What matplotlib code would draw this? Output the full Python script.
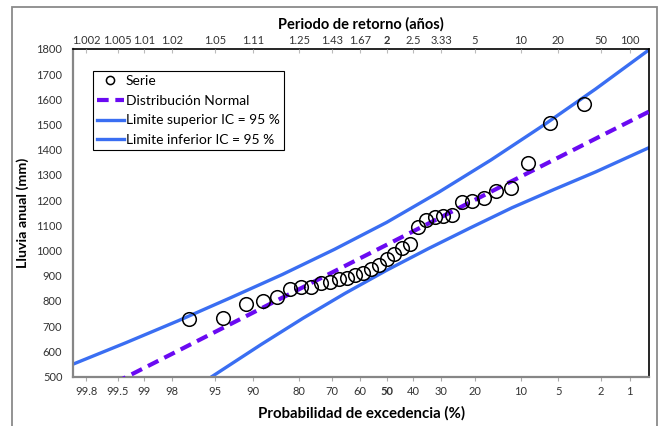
import numpy as np
import matplotlib.pyplot as plt
from matplotlib.patches import Rectangle
from statistics import NormalDist

plt.rcParams['font.family'] = ['Lato', 'DejaVu Sans']

# Annual rainfall sample (mm), sorted ascending
rain = [729, 734, 787, 800, 817, 848, 854, 857, 870, 874, 889, 893, 903, 912,
        926, 943, 965, 986, 1009, 1025, 1094, 1123, 1133, 1139, 1141, 1194,
        1198, 1210, 1238, 1250, 1346, 1508, 1580]

# Fitted normal line, read at standard normal variate positions
norm_z = [-2.6, -2.0, -1.0, 0.0, 1.0, 2.0, 2.51]
norm_val = [476, 602, 813, 1023, 1234, 1444, 1551]

# 95 % confidence limits
upper_z = [-3.0, -2.5, -2.0, -1.5, -1.0, -0.5, 0.0, 0.5, 1.0, 1.5, 2.0, 2.51]
upper_val = [550, 634, 721, 812, 905, 1005, 1112, 1232, 1360, 1497, 1641, 1796]
lower_z = [-1.8, -1.2, -0.8, -0.4, 0.0, 0.4, 0.8, 1.2, 1.6, 2.0, 2.51]
lower_val = [466, 628, 732, 830, 922, 1008, 1090, 1170, 1242, 1312, 1408]

# Axis ticks
exc_ticks = [99.8, 99.5, 99, 98, 95, 90, 80, 70, 60, 50, 40, 30, 20, 10, 5, 2, 1]
exc_labels = ['99.8', '99.5', '99', '98', '95', '90', '80', '70', '60', '50',
              '40', '30', '20', '10', '5', '2', '1']
tr_labels = ['1.002', '1.005', '1.01', '1.02', '1.05', '1.11', '1.25', '1.43',
             '1.67', '2', '2.5', '3.33', '5', '10', '20', '50', '100']

nd = NormalDist()
n = len(rain)
# Weibull plotting position (exceedance), largest value has rank 1
p_exc = [(n - i) / (n + 1) for i in range(n)]
z_obs = [nd.inv_cdf(1 - p) for p in p_exc]
z_ticks = [nd.inv_cdf(1 - p / 100) for p in exc_ticks]

blue = '#3A6EF2'
purple = '#6A0AF2'

fig = plt.figure(figsize=(6.62, 4.26), dpi=100)
ax = fig.add_axes([0.111, 0.116, 0.869, 0.769])

# outer frame around the chart
fig.patches.append(Rectangle((12 / 662, -0.1), 645 / 662, 1.1 - 7 / 426,
                             transform=fig.transFigure, fill=False,
                             edgecolor='#8a8a8a', linewidth=1.3))

ax.plot(upper_z, upper_val, color=blue, lw=2.4, label='Limite superior IC = 95 %', zorder=2)
ax.plot(lower_z, lower_val, color=blue, lw=2.4, label='Limite inferior IC = 95 %', zorder=2)
ax.plot(norm_z, norm_val, color=purple, lw=3, dashes=(2.8, 1.6),
        label='Distribución Normal', zorder=3)
ax.plot(z_obs, rain, linestyle='none', marker='o', ms=9.8, mfc='none',
        mec='black', mew=1.1, label='Serie', zorder=4)

ax.set_xlim(-3.0, 2.51)
ax.set_ylim(500, 1800)
ax.set_yticks(np.arange(500, 1801, 100))
ax.tick_params(axis='y', length=0, pad=8, labelsize=8, colors='#333333')
ax.set_xticks(z_ticks)
ax.set_xticklabels(exc_labels)
ax.tick_params(axis='x', direction='out', length=3, pad=4, labelsize=8,
               colors='#333333', color='#aaaaaa')
ax.get_xticklabels()[9].set_fontweight('bold')

for side in ['left', 'bottom']:
    ax.spines[side].set_color('#868686')
    ax.spines[side].set_linewidth(1.6)
for side in ['top', 'right']:
    ax.spines[side].set_color('black')
    ax.spines[side].set_linewidth(1.2)

ax.set_xlabel('Probabilidad de excedencia (%)', fontsize=10.8, fontweight='bold', labelpad=6)
ax.set_ylabel('Lluvia anual (mm)', fontsize=10.3, fontweight='bold', labelpad=5)

top = ax.twiny()
top.set_xlim(ax.get_xlim())
top.set_xticks(z_ticks)
top.set_xticklabels(tr_labels)
top.tick_params(axis='x', direction='in', length=3, pad=2, labelsize=8,
                colors='#333333', color='#bbbbbb')
top.get_xticklabels()[9].set_fontweight('bold')
for side in top.spines:
    top.spines[side].set_visible(False)
top.set_xlabel('Periodo de retorno (años)', fontsize=10.5, fontweight='bold', labelpad=5)

handles, labels = ax.get_legend_handles_labels()
order = [3, 2, 0, 1]
leg = ax.legend([handles[i] for i in order], [labels[i] for i in order],
                loc='upper left', bbox_to_anchor=(0.034, 0.933), borderaxespad=0,
                fontsize=10, frameon=True, fancybox=False, framealpha=1,
                edgecolor='black', handlelength=1.9, handletextpad=0.15,
                labelspacing=0.55, borderpad=0.3, markerscale=0.6)
leg.get_frame().set_linewidth(0.8)

fig.savefig('out.png', dpi=100)
